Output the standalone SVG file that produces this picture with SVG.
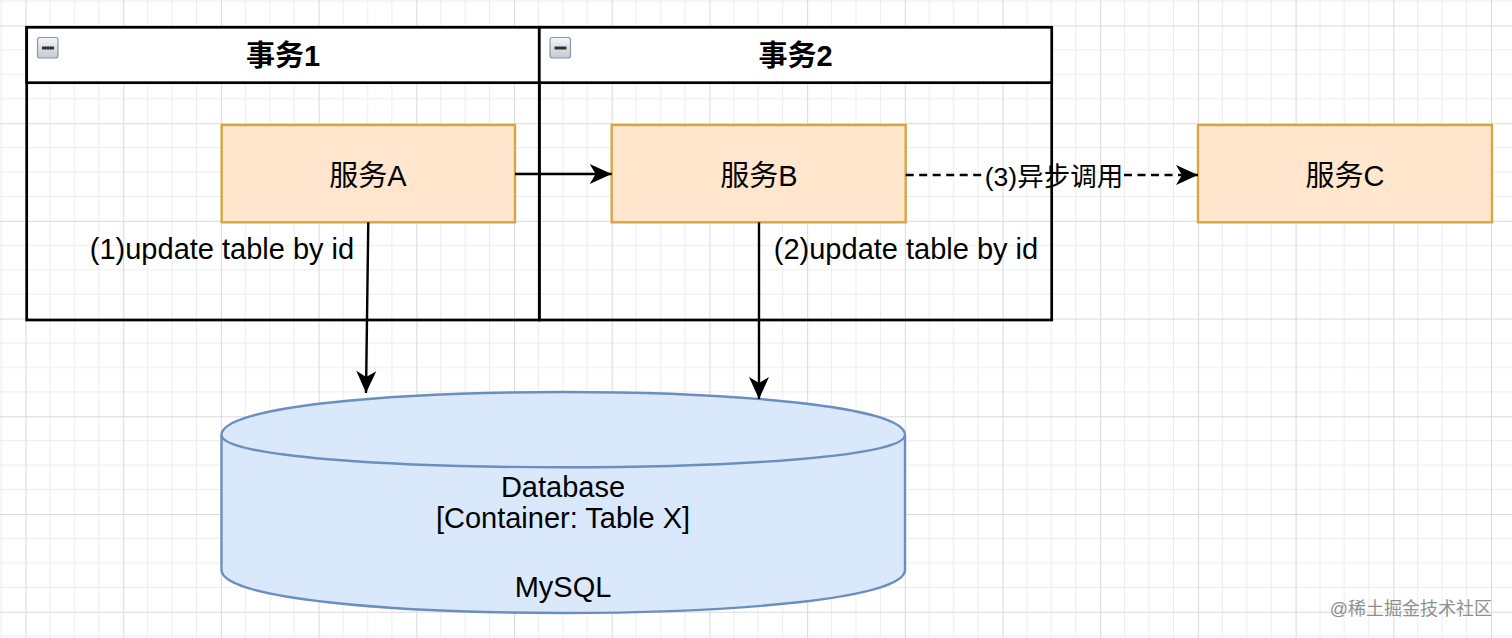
<svg xmlns="http://www.w3.org/2000/svg" width="1512" height="638" viewBox="0 0 1512 638">
  <defs>
    <pattern id="grid" patternUnits="userSpaceOnUse" x="25.5" y="25.5" width="97.7" height="97.7">
      <path d="M24.4,0V97.7M48.85,0V97.7M73.3,0V97.7M0,24.4H97.7M0,48.85H97.7M0,73.3H97.7" stroke="#ececec" stroke-width="1" fill="none"/>
      <path d="M0.5,0V97.7M0,0.5H97.7" stroke="#dadada" stroke-width="1.2" fill="none"/>
    </pattern>
    <linearGradient id="icon" x1="0" y1="0" x2="0" y2="1">
      <stop offset="0" stop-color="#f4f6f9"/>
      <stop offset="1" stop-color="#c3cad4"/>
    </linearGradient>
    <marker id="arrow" markerUnits="userSpaceOnUse" markerWidth="26" markerHeight="24" refX="23" refY="11" orient="auto" viewBox="0 0 26 24">
      <path d="M23,11 L1,1 L7,11 L1,21 Z" fill="#000"/>
    </marker>
    <style>
      .t { font-family: "Liberation Sans", "Noto Sans CJK SC", Arial, sans-serif; fill: #000; }
      .title { font-size: 29px; font-weight: bold; text-anchor: middle; }
      .svc rect { fill: #ffe6cc; stroke: #d6a642; stroke-width: 2.4; }
      .svc text { font-size: 29px; text-anchor: middle; }
      .lane { fill: none; stroke: #000; stroke-width: 2.7; }
      .hdr { fill: #fff; stroke: #000; stroke-width: 2.7; }
      .edge { fill: none; stroke: #000; stroke-width: 2.4; }
      .lbl { font-size: 29px; text-anchor: middle; }
    </style>
  </defs>
  <rect x="0" y="0" width="1512" height="638" fill="#fff"/>
  <rect x="0" y="0" width="1512" height="638" fill="url(#grid)"/>

  <g id="tx1">
    <rect class="lane" x="26.7" y="27.3" width="512.6" height="292.7"/>
    <rect class="hdr" x="26.7" y="27.3" width="512.6" height="55.4"/>
    <rect x="37.5" y="37.5" width="20.5" height="20.5" rx="2.5" fill="url(#icon)" stroke="#8b98a8" stroke-width="1.2"/>
    <rect x="42" y="46.5" width="12" height="3" fill="#333"/>
    <text class="t title" x="283" y="66">事务1</text>
  </g>
  <g id="tx2">
    <rect class="lane" x="539.3" y="27.3" width="512.4" height="292.7"/>
    <rect class="hdr" x="539.3" y="27.3" width="512.4" height="55.4"/>
    <rect x="550" y="37.5" width="20.5" height="20.5" rx="2.5" fill="url(#icon)" stroke="#8b98a8" stroke-width="1.2"/>
    <rect x="554.5" y="46.5" width="12" height="3" fill="#333"/>
    <text class="t title" x="795.5" y="66">事务2</text>
  </g>

  <g id="svcA" class="svc">
    <rect x="221.7" y="125" width="293.3" height="97.3"/>
    <text class="t" x="368" y="186">服务A</text>
  </g>
  <g id="svcB" class="svc">
    <rect x="611.7" y="125" width="294" height="97.3"/>
    <text class="t" x="759" y="186">服务B</text>
  </g>
  <g id="svcC" class="svc">
    <rect x="1198" y="125" width="294" height="97.3"/>
    <text class="t" x="1345" y="186">服务C</text>
  </g>

  <g id="db">
    <path d="M221.5,435 C221.5,377.7 905,377.7 905,435 L905,570 C905,627.3 221.5,627.3 221.5,570 Z" fill="#dae8fc" stroke="#6c8ebf" stroke-width="2.4"/>
    <path d="M221.5,435 C221.5,478 905,478 905,435" fill="none" stroke="#6c8ebf" stroke-width="2.4"/>
    <text class="t lbl" x="563" y="497">Database</text>
    <text class="t lbl" x="563" y="528">[Container: Table X]</text>
    <text class="t lbl" x="563" y="597">MySQL</text>
  </g>

  <g id="connectors">
    <path class="edge" d="M515,174 L611.7,174" marker-end="url(#arrow)"/>
    <path class="edge" d="M368.3,222.3 L366,393" marker-end="url(#arrow)"/>
    <path class="edge" d="M759,222.3 L759,399" marker-end="url(#arrow)"/>
    <path class="edge" d="M905.7,175 L983,175" stroke-dasharray="8 5.5"/>
    <path class="edge" d="M1124,175 L1198,175" stroke-dasharray="8 5.5" marker-end="url(#arrow)"/>
    <text class="t lbl" x="222" y="259">(1)update table by id</text>
    <text class="t lbl" x="906" y="259">(2)update table by id</text>
    <text class="t" x="1054" y="186" font-size="26.5" text-anchor="middle">(3)异步调用</text>
  </g>

  <text class="t" x="1492" y="615" font-size="18" text-anchor="end" fill="#8f8f8f" style="fill:#8f8f8f">@稀土掘金技术社区</text>
</svg>
